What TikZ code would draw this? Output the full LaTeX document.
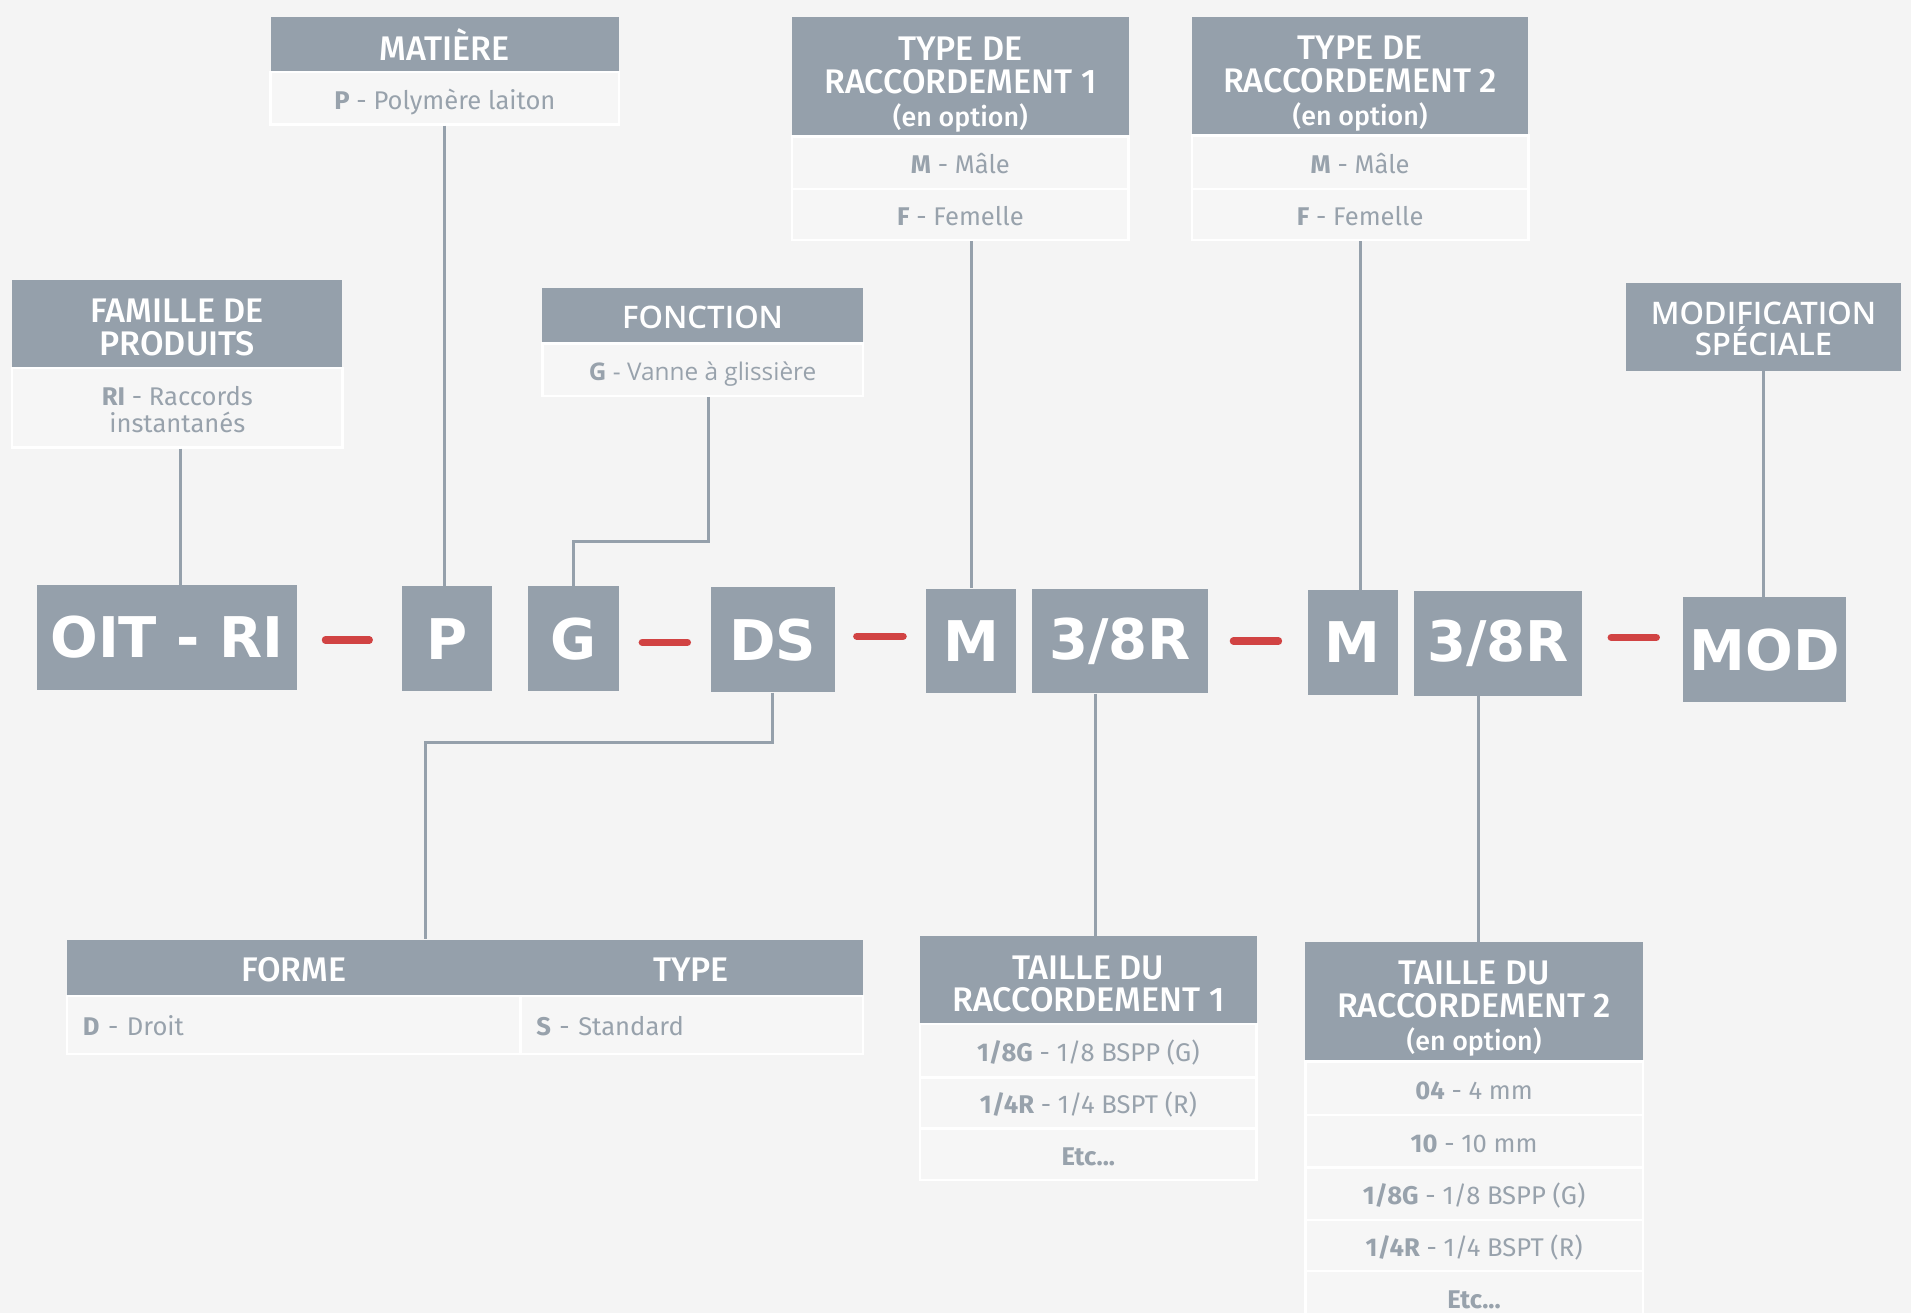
\documentclass[tikz,border=0pt]{standalone}
\usepackage{fontspec}
\setmainfont{Fira Sans}
\IfFontExistsTF{Fira Sans Medium}{\newfontfamily\hdrf{Fira Sans Medium}}{\newfontfamily\hdrf{Fira Sans}}
\IfFontExistsTF{Open Sans SemiBold}{\newfontfamily\wdf{Open Sans SemiBold}}{%
  \IfFontExistsTF{Open Sans Semibold}{\newfontfamily\wdf{Open Sans Semibold}}{\newfontfamily\wdf{Open Sans}}}
\newfontfamily\opf{Open Sans}
\newfontfamily\codef{DejaVu Sans}
\definecolor{bgc}{HTML}{F4F4F4}
\definecolor{hdrc}{HTML}{95A0AB}
\definecolor{txtc}{HTML}{98A2AC}
\definecolor{cellc}{HTML}{F6F6F6}
\definecolor{dredc}{HTML}{D14343}
\tikzset{
  hdrbox/.style={fill=hdrc, text=white, inner sep=0pt, align=center, font=\hdrf\fontsize{28}{27}\selectfont},
  cellbox/.style={fill=cellc, draw=white, line width=2pt, text=txtc, inner sep=0pt, align=center, font=\fontsize{21}{22}\selectfont},
  onecell/.style={cellbox, text height=18pt, text depth=0pt},
  codebox/.style={fill=hdrc, text=white, inner sep=0pt, font=\codef\bfseries\fontsize{46}{46}\selectfont},
  conn/.style={draw=hdrc, line width=2.5pt},
  reddash/.style={draw=dredc, line width=6pt, line cap=round},
}
\newcommand{\enopt}{{\fontsize{22}{27}\selectfont (en option)}}
\newcommand{\topstrut}[1]{\rule{0pt}{#1pt}}
\begin{document}
\begin{tikzpicture}[x=1pt,y=-1pt]
\fill[bgc] (0,0) rectangle (1568,1077);
\useasboundingbox (0,0) rectangle (1568,1077);

% ---- top boxes
\node[hdrbox, minimum width=286, minimum height=45] (mat) at (365,36.5) {MATIÈRE};
\node[onecell, minimum width=286, minimum height=43] (matb) at (365,80.5) {\textbf{P} - Polymère laiton};

\node[hdrbox, minimum width=271, minimum height=72] (fam) at (145.5,266) {\topstrut{24}FAMILLE DE\\PRODUITS};
\node[cellbox, minimum width=271, minimum height=65] (famb) at (145.5,334.5) {\topstrut{19}\textbf{RI} - Raccords\\instantanés};

\node[hdrbox, font=\wdf\fontsize{25.5}{26}\selectfont, minimum width=263, minimum height=46] (fon) at (576.5,259) {\topstrut{22}FONCTION};
\node[onecell, font=\opf\fontsize{20}{22}\selectfont, minimum width=263, minimum height=43] (fonb) at (576.5,303.5) {\textbf{G} - Vanne à glissière};

\node[hdrbox, minimum width=276, minimum height=98] (ty1) at (788,63) {\topstrut{32}TYPE DE\\RACCORDEMENT 1\\\enopt};
\node[onecell, minimum width=276, minimum height=43] (ty1m) at (788,133.5) {\textbf{M} - Mâle};
\node[onecell, minimum width=276, minimum height=42] (ty1f) at (788,176) {\textbf{F} - Femelle};

\node[hdrbox, minimum width=276, minimum height=97] (ty2) at (1116,62.5) {\topstrut{32}TYPE DE\\RACCORDEMENT 2\\\enopt};
\node[onecell, minimum width=276, minimum height=44] (ty2m) at (1116,133) {\textbf{M} - Mâle};
\node[onecell, minimum width=276, minimum height=42] (ty2f) at (1116,176) {\textbf{F} - Femelle};

\node[hdrbox, font=\wdf\fontsize{25.5}{26}\selectfont, minimum width=226, minimum height=72] (mods) at (1447,268) {\topstrut{22}MODIFICATION\\SPÉCIALE};

% ---- code boxes
\node[codebox, minimum width=214, minimum height=86] (oit) at (137,523) {OIT - RI};
\node[codebox, minimum width=74, minimum height=86] (p) at (367,524) {P};
\node[codebox, minimum width=75, minimum height=86] (g) at (470.5,524) {G};
\node[codebox, minimum width=102, minimum height=86] (ds) at (634,525) {DS};
\node[codebox, minimum width=74, minimum height=86] (m1) at (797,526) {M};
\node[codebox, minimum width=144, minimum height=86] (r1) at (919,526) {3/8R};
\node[codebox, minimum width=74, minimum height=86] (m2) at (1110,527) {M};
\node[codebox, minimum width=138, minimum height=86] (r2) at (1229,528) {3/8R};
\node[codebox, minimum width=134, minimum height=86] (mod) at (1448,533) {MOD};

\draw[reddash] (267,525) -- (303,525);
\draw[reddash] (527,527) -- (564,527);
\draw[reddash] (703,522) -- (741,522);
\draw[reddash] (1012,526) -- (1049,526);
\draw[reddash] (1322,523) -- (1359,523);

% ---- bottom boxes
\node[hdrbox, minimum width=653, minimum height=46] (frmh) at (381.5,794) {};
\node[hdrbox] (frmt) at (241,796) {FORME};
\node[hdrbox] (typt) at (567,796) {TYPE};
\node[onecell, text width=346, align=left, inner xsep=13pt, minimum height=48] (frmb) at (241,841) {\textbf{D} - Droit};
\node[onecell, text width=255, align=left, inner xsep=13pt, minimum height=48] (typb) at (567.5,841) {\textbf{S} - Standard};

\node[hdrbox, minimum width=276, minimum height=72] (ta1) at (893,804) {\topstrut{26}TAILLE DU\\RACCORDEMENT 1};
\node[onecell, minimum width=276, minimum height=44] (ta1a) at (893,862) {\textbf{1/8G} - 1/8 BSPP (G)};
\node[onecell, minimum width=276, minimum height=42] (ta1b) at (893,905) {\textbf{1/4R} - 1/4 BSPT (R)};
\node[onecell, minimum width=276, minimum height=42] (ta1c) at (893,947) {\textbf{Etc...}};

\node[hdrbox, minimum width=277, minimum height=98] (ta2) at (1209.5,822) {\topstrut{31}TAILLE DU\\RACCORDEMENT 2\\\enopt};
\node[onecell, minimum width=277, minimum height=44] (ta2a) at (1209.5,893) {\textbf{04} - 4 mm};
\node[onecell, minimum width=277, minimum height=43] (ta2b) at (1209.5,936.5) {\textbf{10} - 10 mm};
\node[onecell, minimum width=277, minimum height=43] (ta2c) at (1209.5,979.5) {\textbf{1/8G} - 1/8 BSPP (G)};
\node[onecell, minimum width=277, minimum height=42] (ta2d) at (1209.5,1022) {\textbf{1/4R} - 1/4 BSPT (R)};
\node[onecell, minimum width=277, minimum height=43] (ta2e) at (1209.5,1064.5) {\textbf{Etc...}};

% ---- connectors
\draw[conn] ([xshift=2.5pt]famb.south) -- ([xshift=2.5pt]famb.south |- oit.north);
\draw[conn] (matb.south) -- (matb.south |- p.north);
\coordinate (fonk) at (581,444);
\draw[conn] ([xshift=4.5pt]fonb.south) -- (fonk) -| (g.north);
\draw[conn] (m1.north |- ty1f.south) -- (m1.north);
\draw[conn] (ty2f.south) -- (ty2f.south |- m2.north);
\draw[conn] (mods.south) -- (mods.south |- mod.north);
\coordinate (dsk) at (349,609);
\draw[conn] (ds.south) |- (dsk) -- (dsk |- frmh.north);
\draw[conn] ([xshift=-20pt]r1.south) -- ([xshift=-20pt]r1.south |- ta1.north);
\draw[conn] ([xshift=-16pt]r2.south) -- ([xshift=-16pt]r2.south |- ta2.north);
\end{tikzpicture}
\end{document}
